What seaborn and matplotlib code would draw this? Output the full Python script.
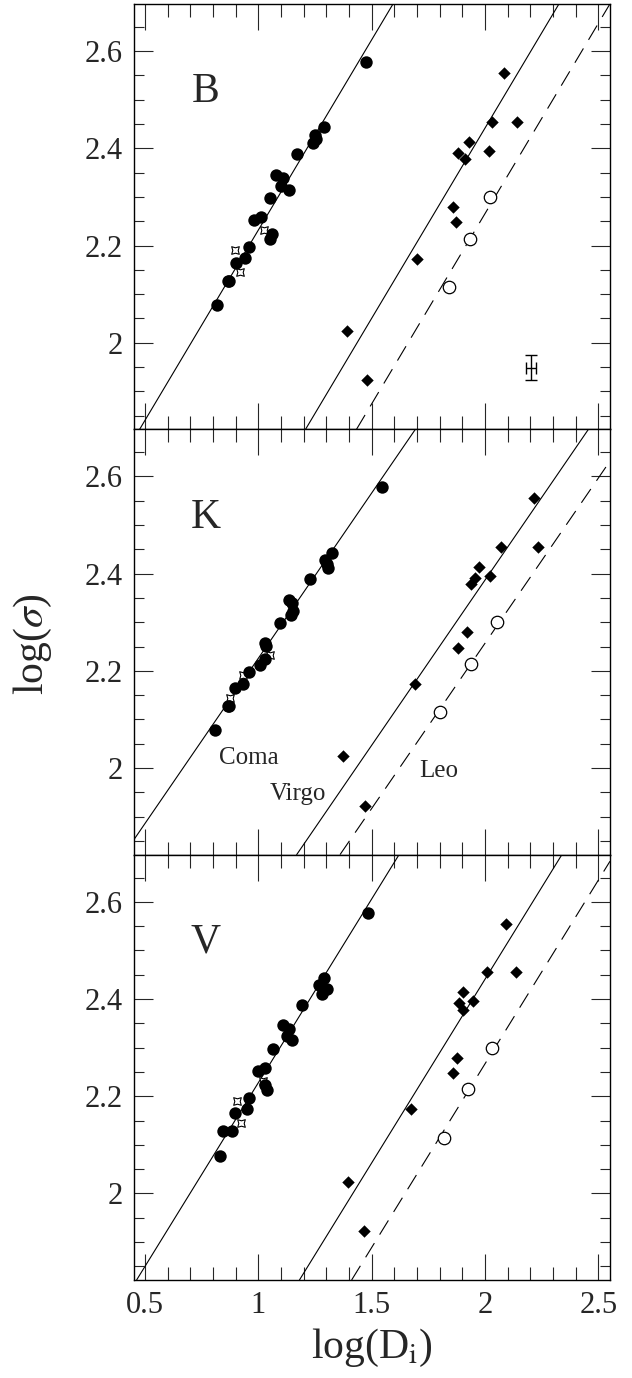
import numpy as np
import pandas as pd
import matplotlib
matplotlib.use("Agg")
import matplotlib.pyplot as plt
from matplotlib.ticker import MultipleLocator, FormatStrFormatter
import seaborn as sns

# ---------------- data ----------------
bands = ["B", "K", "V"]

# Coma (filled circles): log(sigma) shared, log(Di) per band
coma_sigma = [2.578, 2.443, 2.428, 2.420, 2.411, 2.388, 2.346, 2.339, 2.323, 2.315,
              2.298, 2.258, 2.252, 2.224, 2.213, 2.197, 2.174, 2.165, 2.128, 2.128, 2.078]
coma_D_B = [1.474, 1.291, 1.251, 1.255, 1.243, 1.169, 1.078, 1.110, 1.100, 1.134,
            1.051, 1.010, 0.981, 1.060, 1.051, 0.960, 0.940, 0.900, 0.866, 0.870, 0.819]
coma_D_K = [1.547, 1.325, 1.296, 1.304, 1.307, 1.229, 1.137, 1.149, 1.151, 1.143,
            1.097, 1.029, 1.034, 1.029, 1.007, 0.957, 0.934, 0.896, 0.866, 0.870, 0.810]
coma_D_V = [1.482, 1.288, 1.269, 1.301, 1.279, 1.193, 1.107, 1.137, 1.125, 1.149,
            1.066, 1.031, 0.999, 1.028, 1.037, 0.957, 0.950, 0.897, 0.844, 0.882, 0.829]

# Coma (open stars)
star_sigma = [2.191, 2.145, 2.232]
star_D_B = [0.899, 0.919, 1.026]
star_D_K = [0.931, 0.875, 1.051]
star_D_V = [0.904, 0.922, 1.022]

# Virgo (filled diamonds)
virgo_sigma = [2.555, 2.455, 2.455, 2.414, 2.391, 2.378, 2.395, 2.279, 2.248, 2.173, 2.024, 1.923]
virgo_D_B = [2.082, 2.032, 2.140, 1.931, 1.881, 1.913, 2.018, 1.857, 1.872, 1.701, 1.391, 1.481]
virgo_D_K = [2.216, 2.069, 2.234, 1.975, 1.957, 1.937, 2.022, 1.919, 1.882, 1.691, 1.374, 1.471]
virgo_D_V = [2.093, 2.010, 2.138, 1.904, 1.884, 1.904, 1.947, 1.876, 1.857, 1.674, 1.394, 1.468]

# Leo (open circles)
leo_sigma = [2.300, 2.214, 2.115]
leo_D_B = [2.021, 1.932, 1.841]
leo_D_K = [2.053, 1.937, 1.800]
leo_D_V = [2.029, 1.926, 1.818]

# fitted relations: slope and intercepts (Coma, Virgo, Leo)
fit_slope = {"B": 0.783, "K": 0.680, "V": 0.756}
fit_coma = {"B": 1.449, "K": 1.546, "V": 1.472}
fit_virgo = {"B": 0.876, "K": 1.027, "V": 0.929}
fit_leo = {"B": 0.700, "K": 0.897, "V": 0.755}

# typical error bar (B panel)
err_x, err_y = [2.203], [1.949]
err_dx, err_dy = [0.023], [0.025]

x_ticks = [0.5, 1.0, 1.5, 2.0, 2.5]
y_ticks = [2.0, 2.2, 2.4, 2.6]

# ---------------- style ----------------
sns.set_style("ticks")
plt.rcParams["font.family"] = ["Liberation Serif", "DejaVu Serif"]
plt.rcParams["mathtext.fontset"] = "stix"

fig = plt.figure(figsize=(6.32, 13.78), dpi=100)
left, width = 134 / 632, 476 / 632
H = 1378.0
panel_h = 425.3 / H
tops = [4, 429.3, 854.7]

D_by_band = {
    "B": (coma_D_B, star_D_B, virgo_D_B, leo_D_B),
    "K": (coma_D_K, star_D_K, virgo_D_K, leo_D_K),
    "V": (coma_D_V, star_D_V, virgo_D_V, leo_D_V),
}

axes = []
for i, band in enumerate(bands):
    bottom = 1 - (tops[i] / H) - panel_h
    ax = fig.add_axes([left, bottom, width, panel_h])
    axes.append(ax)
    cD, sD, vD, lD = D_by_band[band]

    # lines
    m = fit_slope[band]
    ax.axline((0, fit_coma[band]), slope=m, color="black", lw=0.8, zorder=1)
    ax.axline((0, fit_virgo[band]), slope=m, color="black", lw=0.8, zorder=1)
    ax.axline((0, fit_leo[band]), slope=m, color="black", lw=0.8,
              dashes=(15, 9), zorder=1)

    sns.scatterplot(x=sD, y=star_sigma, ax=ax, marker=(4, 1, 45), s=60,
                    color="white", edgecolor="black", linewidth=0.8, zorder=2)
    sns.scatterplot(x=cD, y=coma_sigma, ax=ax, marker="o", s=80,
                    color="black", edgecolor="black", linewidth=0, zorder=3)
    sns.scatterplot(x=vD, y=virgo_sigma, ax=ax, marker="D", s=40,
                    color="black", edgecolor="black", linewidth=0, zorder=3)
    sns.scatterplot(x=lD, y=leo_sigma, ax=ax, marker="o", s=80,
                    color="white", edgecolor="black", linewidth=0.9, zorder=3)

    if band == "B":
        ax.errorbar(err_x, err_y, xerr=err_dx, yerr=err_dy, fmt="none",
                    ecolor="black", elinewidth=1.0, capsize=4, capthick=1.0)

    ax.text(0.769, 2.516, band, fontsize=30, ha="center", va="center")

    ax.set_xlim(0.4515, 2.551)
    ax.set_ylim(1.822, 2.697)
    ax.set_xticks(x_ticks)
    ax.set_yticks(y_ticks)
    ax.xaxis.set_minor_locator(MultipleLocator(0.1))
    ax.yaxis.set_minor_locator(MultipleLocator(0.05))
    ax.yaxis.set_major_formatter(FormatStrFormatter("%g"))
    ax.xaxis.set_major_formatter(FormatStrFormatter("%g"))
    ax.tick_params(axis="x", which="major", direction="in", length=19, width=0.8,
                   top=True, bottom=True, labelsize=22, pad=8)
    ax.tick_params(axis="x", which="minor", direction="in", length=9.5, width=0.8,
                   top=True, bottom=True)
    ax.tick_params(axis="y", which="major", direction="in", length=14, width=0.8,
                   left=True, right=True, labelsize=22, pad=8)
    ax.tick_params(axis="y", which="minor", direction="in", length=7, width=0.8,
                   left=True, right=True)
    for sp in ax.spines.values():
        sp.set_visible(True)
        sp.set_linewidth(1.0)
        sp.set_color("black")
    ax.set_xlabel("")
    ax.set_ylabel("")
    if i < 2:
        ax.tick_params(axis="x", labelbottom=False)

# cluster labels (K panel)
axK = axes[1]
axK.text(0.956, 2.021, "Coma", fontsize=18, ha="center", va="center")
axK.text(1.176, 1.946, "Virgo", fontsize=18, ha="center", va="center")
axK.text(1.794, 1.994, "Leo", fontsize=18, ha="center", va="center")

axes[2].set_xlabel(r"log(D$_{\rm i}$)", fontsize=30, labelpad=5)
fig.text(33 / 632, 1 - 644 / H, r"log($\sigma$)", fontsize=30, rotation=90,
         ha="center", va="center")

fig.savefig("out.png", dpi=100)
